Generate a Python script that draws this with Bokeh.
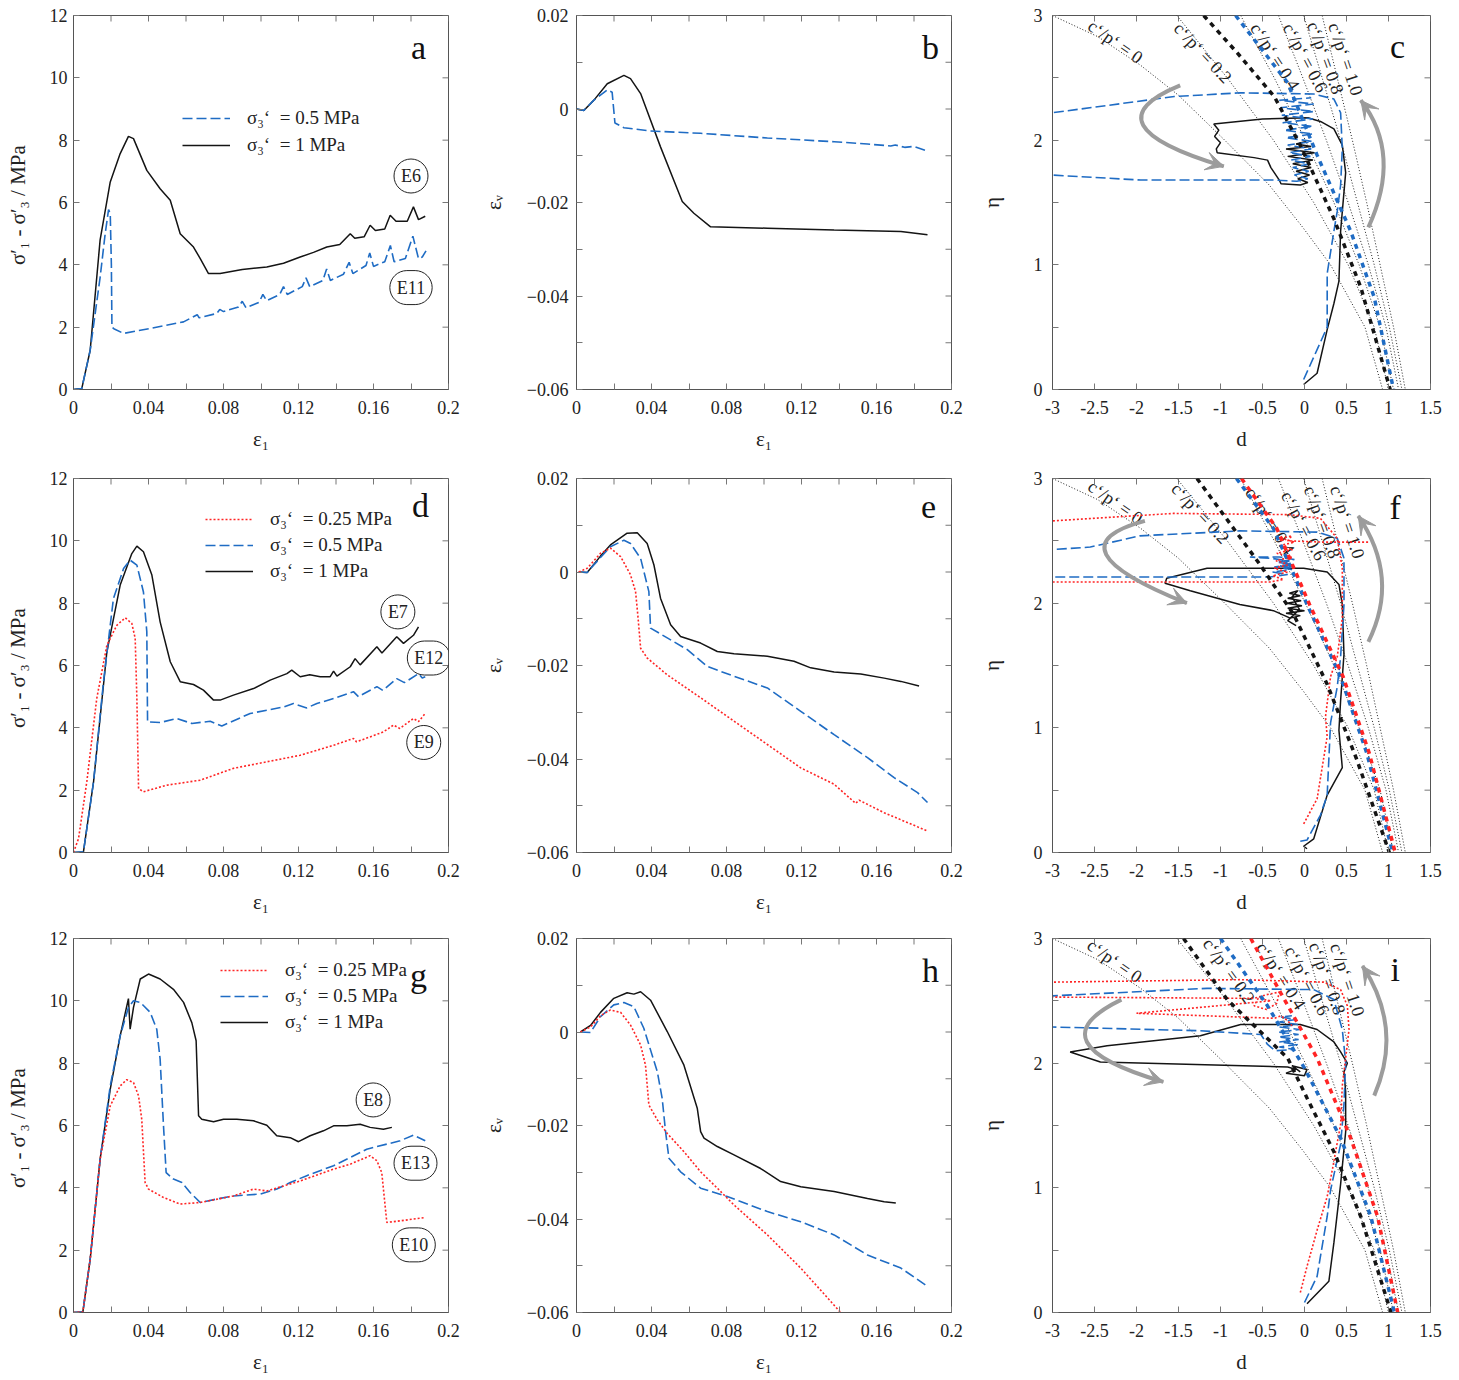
import math
from bokeh.plotting import figure
from bokeh.models import (Range1d, FixedTicker, Legend, LegendItem, Label, Arrow, VeeHead)
from bokeh.layouts import column, row
from bokeh.embed import file_html
from bokeh.resources import INLINE
from bokeh.core.properties import value

FONT = "Liberation Serif"
BLUE = "#1f6cc4"
RED = "#ff2424"
BLACK = "#141414"
GREY = "#9c9c9c"

# ---------------- data (strain, deviator stress / volumetric strain) ----------------
A_BLUE = [(0, 0), (0.0044, 0.03), (0.0089, 1.26), (0.0142, 3.6), (0.0169, 5.0), (0.0187, 5.77), (0.0196, 5.64),
          (0.0202, 4.0), (0.0205, 2.0), (0.0215, 1.95), (0.0267, 1.8), (0.041, 1.96), (0.0587, 2.17), (0.066, 2.4),
          (0.067, 2.3), (0.0764, 2.44), (0.078, 2.57), (0.080, 2.5), (0.088, 2.65), (0.090, 2.83), (0.092, 2.62),
          (0.099, 2.8), (0.101, 3.05), (0.103, 2.85), (0.110, 3.05), (0.112, 3.3), (0.114, 3.05), (0.122, 3.3),
          (0.124, 3.58), (0.126, 3.3), (0.133, 3.5), (0.135, 3.87), (0.137, 3.5), (0.144, 3.7), (0.147, 4.08),
          (0.149, 3.72), (0.156, 3.98), (0.158, 4.38), (0.160, 3.95), (0.166, 4.1), (0.169, 4.62), (0.171, 4.1),
          (0.177, 4.2), (0.181, 4.92), (0.184, 4.2), (0.186, 4.25), (0.188, 4.45)]
A_BLACK = [(0, 0), (0.0044, 0.03), (0.0089, 1.26), (0.0142, 4.8), (0.0196, 6.66), (0.0249, 7.57), (0.0293, 8.12),
           (0.032, 8.05), (0.0391, 7.03), (0.0462, 6.44), (0.0516, 6.07), (0.0569, 5.0), (0.064, 4.57),
           (0.0676, 4.2), (0.072, 3.72), (0.0782, 3.72), (0.09, 3.85), (0.1031, 3.93), (0.112, 4.05),
           (0.1209, 4.25), (0.128, 4.4), (0.1351, 4.57), (0.142, 4.65), (0.1476, 5.0), (0.150, 4.85),
           (0.155, 4.9), (0.1582, 5.27), (0.161, 5.1), (0.166, 5.15), (0.1689, 5.59), (0.172, 5.4),
           (0.178, 5.4), (0.1813, 5.86), (0.184, 5.45), (0.1876, 5.56)]

B_BLUE = [(0, 0), (0.0039, -0.0003), (0.0093, 0.0019), (0.0164, 0.0041), (0.019, 0.0036), (0.0205, -0.003),
          (0.0253, -0.004), (0.0395, -0.0047), (0.0662, -0.0052), (0.1018, -0.0062), (0.1374, -0.007),
          (0.1552, -0.0075), (0.1676, -0.0079), (0.170, -0.0077), (0.175, -0.0082), (0.180, -0.0080),
          (0.1872, -0.009)]
B_BLACK = [(0, 0), (0.0039, -0.0003), (0.0093, 0.0019), (0.0164, 0.0054), (0.0253, 0.0072), (0.0288, 0.0065),
           (0.0342, 0.0033), (0.0448, -0.0081), (0.0564, -0.0198), (0.0626, -0.0223), (0.0715, -0.0252),
           (0.1018, -0.0255), (0.1374, -0.0259), (0.173, -0.0262), (0.1872, -0.0269)]

D_RED = [(0, 0), (0.0027, 0.45), (0.0071, 2.27), (0.0124, 4.94), (0.0178, 6.65), (0.0231, 7.29), (0.0276, 7.53),
         (0.0311, 7.35), (0.0329, 6.87), (0.0338, 4.94), (0.0347, 2.05), (0.0373, 1.95), (0.0498, 2.16),
         (0.0676, 2.32), (0.0853, 2.7), (0.1031, 2.91), (0.1209, 3.12), (0.1387, 3.44), (0.1493, 3.66),
         (0.151, 3.55), (0.1653, 3.87), (0.1707, 4.09), (0.174, 3.98), (0.1813, 4.3), (0.184, 4.2), (0.1876, 4.46)]
D_BLUE = [(0, 0), (0.0053, 0.02), (0.0107, 2.27), (0.016, 5.48), (0.0213, 8.15), (0.0267, 9.11), (0.0302, 9.38),
          (0.0338, 9.22), (0.0373, 8.36), (0.0391, 7.08), (0.0395, 4.19), (0.0462, 4.17), (0.0551, 4.3),
          (0.0631, 4.14), (0.0729, 4.21), (0.0791, 4.06), (0.0942, 4.46), (0.112, 4.67), (0.1173, 4.78),
          (0.1244, 4.64), (0.1298, 4.78), (0.1387, 4.94), (0.1493, 5.16), (0.152, 5.0), (0.1618, 5.32),
          (0.165, 5.2), (0.1724, 5.58), (0.1765, 5.45), (0.184, 5.74), (0.186, 5.6), (0.1876, 5.64)]
D_BLACK = [(0, 0), (0.0053, 0.02), (0.0107, 2.27), (0.0178, 6.44), (0.0249, 8.58), (0.0311, 9.59), (0.0338, 9.83),
           (0.0373, 9.65), (0.0418, 8.9), (0.0462, 7.4), (0.0516, 6.12), (0.0569, 5.48), (0.064, 5.39),
           (0.0693, 5.21), (0.0747, 4.89), (0.0782, 4.89), (0.0853, 5.05), (0.096, 5.26), (0.1049, 5.53),
           (0.1138, 5.74), (0.1164, 5.85), (0.1209, 5.64), (0.126, 5.7), (0.1316, 5.64), (0.1369, 5.64),
           (0.1387, 5.82), (0.1405, 5.66), (0.1476, 5.96), (0.1502, 6.22), (0.1529, 6.02), (0.1618, 6.6),
           (0.1645, 6.4), (0.1724, 6.92), (0.176, 6.71), (0.1813, 6.97), (0.184, 7.24)]

E_RED = [(0.0012, 0), (0.0057, 0.0008), (0.0128, 0.004), (0.0181, 0.0051), (0.0235, 0.0033), (0.0288, -0.0006),
         (0.0315, -0.0042), (0.0327, -0.0092), (0.0342, -0.0163), (0.0377, -0.0184), (0.0484, -0.022),
         (0.0662, -0.0269), (0.084, -0.0319), (0.1018, -0.0369), (0.1196, -0.0419), (0.1374, -0.0454),
         (0.1489, -0.0495), (0.1507, -0.0488), (0.1641, -0.0515), (0.1872, -0.0554)]
E_BLUE = [(0.0012, 0), (0.0057, -0.0001), (0.0128, 0.0031), (0.0181, 0.0054), (0.0253, 0.0068), (0.0288, 0.0061),
          (0.0342, 0.0029), (0.0386, -0.0042), (0.0395, -0.012), (0.0484, -0.0141), (0.0591, -0.0166),
          (0.0698, -0.0202), (0.084, -0.0223), (0.1018, -0.0248), (0.1196, -0.0298), (0.1374, -0.0348),
          (0.1552, -0.0397), (0.1694, -0.044), (0.1819, -0.0472), (0.1872, -0.0493)]
E_BLACK = [(0.0012, 0), (0.0057, -0.0001), (0.0128, 0.0034), (0.0181, 0.0058), (0.027, 0.0083), (0.0324, 0.0084),
           (0.0377, 0.0061), (0.0413, 0.0015), (0.0448, -0.0056), (0.0502, -0.0113), (0.0555, -0.0138),
           (0.0662, -0.0152), (0.0751, -0.017), (0.084, -0.0175), (0.1018, -0.018), (0.116, -0.0191),
           (0.1249, -0.0205), (0.1374, -0.0214), (0.1516, -0.0218), (0.1641, -0.0227), (0.173, -0.0234),
           (0.1827, -0.0244)]

G_RED = [(0, 0), (0.005, 0.02), (0.0089, 1.71), (0.0142, 4.92), (0.0196, 6.63), (0.0249, 7.27), (0.0284, 7.47),
         (0.032, 7.38), (0.0347, 6.95), (0.0364, 6.2), (0.0382, 4.17), (0.04, 3.96), (0.048, 3.69), (0.0569, 3.48),
         (0.0676, 3.53), (0.0853, 3.74), (0.096, 3.96), (0.1031, 3.9), (0.1209, 4.22), (0.1387, 4.6),
         (0.1476, 4.76), (0.1582, 5.03), (0.1618, 4.87), (0.1644, 4.49), (0.1671, 2.89), (0.1742, 2.94),
         (0.1876, 3.05)]
G_BLUE = [(0, 0), (0.005, 0.02), (0.0089, 1.71), (0.0142, 4.92), (0.0196, 7.27), (0.0249, 8.88), (0.0293, 9.79),
          (0.032, 10.0), (0.0356, 9.95), (0.0409, 9.63), (0.0444, 9.09), (0.0462, 8.13), (0.048, 5.99),
          (0.0494, 4.49), (0.0533, 4.28), (0.0578, 4.17), (0.0622, 3.85), (0.0676, 3.53), (0.0764, 3.64),
          (0.0853, 3.74), (0.0996, 3.8), (0.1084, 3.96), (0.1156, 4.17), (0.1244, 4.39), (0.1387, 4.71),
          (0.1564, 5.24), (0.1742, 5.51), (0.1813, 5.69), (0.1876, 5.51)]
G_BLACK = [(0, 0), (0.005, 0.02), (0.0089, 1.71), (0.0142, 4.92), (0.0196, 7.17), (0.0249, 8.88), (0.0293, 10.07),
           (0.0302, 9.09), (0.032, 9.79), (0.0356, 10.7), (0.04, 10.86), (0.0462, 10.7), (0.0533, 10.37),
           (0.0587, 9.95), (0.0631, 9.3), (0.0654, 8.72), (0.0667, 6.31), (0.0684, 6.2), (0.0747, 6.12),
           (0.08, 6.2), (0.0871, 6.2), (0.096, 6.15), (0.1031, 6.01), (0.1084, 5.67), (0.1156, 5.61),
           (0.12, 5.48), (0.1262, 5.67), (0.1333, 5.83), (0.1387, 5.99), (0.1458, 5.99), (0.1529, 6.04),
           (0.1582, 5.94), (0.1653, 5.88), (0.1698, 5.94)]

H_RED = [(0.0021, 0), (0.0075, 0.0011), (0.0128, 0.0035), (0.0181, 0.0047), (0.0235, 0.0042), (0.0288, 0.0015),
         (0.0342, -0.0028), (0.0368, -0.0071), (0.0386, -0.0156), (0.0431, -0.0188), (0.0484, -0.0217),
         (0.0573, -0.0256), (0.0662, -0.0299), (0.0751, -0.0334), (0.084, -0.037), (0.1018, -0.0434),
         (0.1196, -0.0505), (0.1409, -0.06)]
H_BLUE = [(0.0021, 0), (0.0075, -0.0001), (0.0128, 0.0033), (0.0199, 0.0058), (0.0253, 0.0063), (0.0306, 0.0054),
          (0.0359, 0.0008), (0.0431, -0.0085), (0.0457, -0.0142), (0.0475, -0.0213), (0.0493, -0.027),
          (0.0555, -0.0299), (0.0662, -0.0334), (0.0804, -0.0352), (0.1018, -0.0384), (0.1196, -0.0406),
          (0.1374, -0.0434), (0.1552, -0.0477), (0.173, -0.0505), (0.1872, -0.0544)]
H_BLACK = [(0.0021, 0), (0.0075, 0.0014), (0.0128, 0.0042), (0.0199, 0.0072), (0.027, 0.0084), (0.0306, 0.0081),
           (0.0342, 0.0086), (0.0395, 0.0068), (0.0484, 0.0001), (0.0573, -0.0071), (0.0644, -0.0163),
           (0.0662, -0.0213), (0.068, -0.0227), (0.0751, -0.0245), (0.084, -0.0263), (0.0982, -0.0292),
           (0.1089, -0.032), (0.1196, -0.0331), (0.1374, -0.0341), (0.1552, -0.0356), (0.1641, -0.0363),
           (0.1703, -0.0366)]

# ---------------- data (dilatancy d, stress ratio eta) ----------------
CP_ETA = [3.0, 2.5, 2.0, 1.5, 1.0, 0.5, 0.0]
CP0 = [(-3.0, 3.0), (-2.46, 2.83), (-1.95, 2.6), (-1.5, 2.36), (-0.95, 2.0), (-0.42, 1.64), (-0.02, 1.3),
       (0.31, 1.0), (0.72, 0.5), (0.93, 0.0)]
CP02_D = [-1.52, -0.92, -0.37, 0.11, 0.52, 0.83, 1.0]
CP04_D = [-0.76, -0.36, 0.01, 0.35, 0.65, 0.90, 1.06]
CP06_D = [-0.31, -0.02, 0.26, 0.52, 0.76, 0.97, 1.12]
CP08_D = [-0.01, 0.21, 0.43, 0.63, 0.83, 1.01, 1.16]
CP10_D = [0.21, 0.39, 0.57, 0.74, 0.90, 1.06, 1.2]
CP_TEXT = ["c‘/p‘ = 0", "c‘/p‘ = 0.2", "c‘/p‘ = 0.4", "c‘/p‘ = 0.6", "c‘/p‘ = 0.8", "c‘/p‘ = 1.0"]

C_FIT_BLACK = [(-1.2, 3.0), (-0.8, 2.7), (-0.36, 2.35), (-0.05, 1.96), (0.35, 1.37), (0.67, 0.82), (1.02, 0.0)]
C_FIT_BLUE = [(-0.82, 3.0), (-0.2, 2.46), (0.15, 1.88), (0.55, 1.27), (0.83, 0.74), (1.06, 0.0)]
C_BLUE = [(-0.01, 0.08), (0.15, 0.32), (0.27, 0.5), (0.27, 0.93), (0.35, 1.27), (0.39, 1.43), (0.43, 1.64),
          (0.45, 1.93), (0.43, 2.22), (0.35, 2.33), (0.11, 2.37), (-0.76, 2.38), (-1.55, 2.35), (-3.0, 2.22),
          (-4.0, 2.19), (-4.0, 1.73), (-3.0, 1.72), (-1.95, 1.68), (-0.36, 1.68), (-0.09, 1.67), (0.04, 1.69),
          (-0.12, 1.72), (0.05, 1.75), (-0.14, 1.78), (0.06, 1.81), (-0.16, 1.84), (0.07, 1.87), (-0.18, 1.90),
          (0.08, 1.93), (-0.2, 1.96), (0.09, 1.99), (-0.22, 2.02), (0.1, 2.05), (-0.24, 2.08), (0.1, 2.11),
          (-0.26, 2.14), (0.1, 2.17), (-0.27, 2.20), (0.11, 2.23), (-0.29, 2.26), (0.11, 2.29), (-0.3, 2.32),
          (0.08, 2.34)]
C_BLACK = [(-0.01, 0.04), (0.15, 0.13), (0.27, 0.48), (0.35, 0.69), (0.41, 0.87), (0.43, 1.27), (0.49, 1.74),
           (0.45, 1.96), (0.35, 2.09), (0.19, 2.15), (0.04, 2.18), (-0.5, 2.17), (-1.08, 2.13), (-1.02, 2.08),
           (-1.07, 2.03), (-1.0, 1.98), (-1.05, 1.93), (-1.04, 1.9), (-0.6, 1.86), (-0.44, 1.84), (-0.40, 1.78),
           (-0.36, 1.74), (-0.30, 1.68), (-0.28, 1.65), (-0.05, 1.64), (0.04, 1.66), (-0.08, 1.69), (0.06, 1.72),
           (-0.1, 1.75), (0.08, 1.78), (-0.14, 1.81), (0.1, 1.84), (-0.2, 1.87), (0.12, 1.90), (-0.22, 1.93),
           (0.08, 1.95), (-0.1, 1.97), (0.02, 1.99)]

F_FIT_BLACK = [(-1.28, 3.0), (-0.53, 2.31), (-0.13, 1.91), (0.27, 1.35), (0.62, 0.75), (1.01, 0.0)]
F_FIT_BLUE = [(-0.81, 3.0), (-0.37, 2.6), (0.03, 1.99), (0.43, 1.41), (0.74, 0.80), (1.05, 0.0)]
F_FIT_RED = [(-0.75, 3.0), (-0.33, 2.6), (0.06, 1.99), (0.46, 1.41), (0.77, 0.80), (1.08, 0.0)]
F_RED = [(-0.01, 0.23), (0.15, 0.43), (0.27, 0.93), (0.25, 1.09), (0.31, 1.41), (0.39, 1.57), (0.45, 1.88),
         (0.45, 2.28), (0.39, 2.52), (0.19, 2.68), (-0.17, 2.71), (-1.56, 2.72), (-3.0, 2.66), (-4.0, 2.64),
         (-4.0, 2.18), (-3.0, 2.17), (-0.41, 2.17), (-0.25, 2.19), (-0.38, 2.22), (-0.2, 2.25), (-0.36, 2.28),
         (-0.18, 2.31), (-0.34, 2.34), (-0.15, 2.37), (-0.33, 2.40), (-0.14, 2.43), (-0.3, 2.46), (-0.12, 2.49),
         (-0.27, 2.52), (-0.15, 2.54), (-0.2, 2.5), (0.2, 2.49), (0.76, 2.49)]
F_BLUE = [(-0.05, 0.09), (0.03, 0.10), (0.19, 0.3), (0.27, 0.46), (0.31, 1.04), (0.39, 1.33), (0.43, 1.57),
          (0.47, 1.99), (0.47, 2.36), (0.39, 2.52), (0.15, 2.57), (-0.77, 2.58), (-1.96, 2.54), (-2.55, 2.45),
          (-3.0, 2.43), (-4.0, 2.42), (-4.0, 2.22), (-3.0, 2.21), (-0.41, 2.21), (-0.2, 2.23), (-0.38, 2.25),
          (-0.15, 2.27), (-0.36, 2.29), (-0.14, 2.31), (-0.33, 2.33), (-0.12, 2.35), (-0.3, 2.37),
          (-0.65, 2.37), (-0.4, 2.36), (-0.18, 2.34), (-0.3, 2.30), (-0.12, 2.28)]
F_BLACK = [(0.03, 0.03), (-0.01, 0.05), (0.11, 0.11), (0.27, 0.46), (0.45, 0.68), (0.41, 0.98), (0.43, 1.22),
           (0.47, 1.59), (0.45, 1.99), (0.41, 2.15), (0.27, 2.25), (-0.01, 2.28), (-1.16, 2.28), (-1.64, 2.2),
           (-1.66, 2.16), (-1.36, 2.1), (-0.77, 1.99), (-0.37, 1.94), (-0.17, 1.88), (-0.05, 1.90),
           (-0.22, 1.92), (0.0, 1.94), (-0.2, 1.96), (-0.03, 1.98), (-0.21, 2.0), (-0.04, 2.02), (-0.2, 2.04),
           (-0.05, 2.06), (-0.18, 2.08), (-0.08, 2.1), (-0.15, 2.05), (-0.06, 1.95), (-0.2, 1.86),
           (-0.1, 1.82)]

I_FIT_BLACK = [(-1.44, 3.0), (-0.92, 2.51), (-0.2, 2.04), (0.03, 1.72), (0.35, 1.29), (0.67, 0.77), (1.03, 0.0)]
I_FIT_BLUE = [(-1.0, 3.0), (-0.44, 2.46), (0.0, 1.96), (0.43, 1.40), (0.79, 0.77), (1.07, 0.0)]
I_FIT_RED = [(-0.64, 3.0), (-0.28, 2.56), (0.15, 2.04), (0.55, 1.40), (0.87, 0.77), (1.11, 0.0)]
I_RED = [(-0.05, 0.16), (0.03, 0.37), (0.15, 0.66), (0.27, 0.93), (0.33, 1.14), (0.43, 1.51), (0.45, 1.82),
         (0.49, 2.04), (0.53, 2.27), (0.51, 2.46), (0.43, 2.59), (0.23, 2.65), (-0.76, 2.67), (-3.0, 2.65),
         (-4.0, 2.64), (-4.0, 2.53), (-3.0, 2.53), (-0.6, 2.52), (-0.45, 2.55), (-0.3, 2.57), (-0.33, 2.48),
         (-0.45, 2.43), (-0.6, 2.46), (-0.55, 2.52), (-0.4, 2.50), (-2.0, 2.40), (-0.36, 2.36), (-0.28, 2.38),
         (-0.2, 2.34), (-0.15, 2.30)]
I_BLUE = [(0.0, 0.08), (0.15, 0.29), (0.27, 0.77), (0.31, 0.98), (0.43, 1.35), (0.47, 1.67), (0.49, 2.01),
          (0.45, 2.27), (0.35, 2.51), (0.11, 2.59), (-1.16, 2.6), (-3.0, 2.54), (-4.0, 2.53), (-4.0, 2.30),
          (-3.0, 2.29), (-1.24, 2.26), (-0.52, 2.23), (-0.44, 2.15), (-0.35, 2.1), (-0.12, 2.11),
          (-0.3, 2.13), (-0.08, 2.15), (-0.3, 2.17), (-0.07, 2.19), (-0.31, 2.21), (-0.07, 2.23),
          (-0.31, 2.25), (-0.06, 2.27), (-0.3, 2.29), (-0.08, 2.31), (-0.3, 2.33), (-0.1, 2.35), (-0.28, 2.37),
          (-0.15, 2.38)]
I_BLACK = [(0.03, 0.07), (0.29, 0.25), (0.35, 0.56), (0.43, 1.03), (0.49, 1.45), (0.49, 1.77), (0.47, 1.93),
           (0.51, 2.0), (0.43, 2.09), (0.35, 2.17), (0.15, 2.27), (-0.05, 2.31), (-0.76, 2.31), (-1.24, 2.22),
           (-2.35, 2.14), (-2.79, 2.09), (-2.43, 2.01), (-0.2, 1.97), (-0.1, 1.95), (-0.22, 1.92), (0.0, 1.90),
           (0.03, 1.95), (-0.15, 1.98), (-0.05, 1.93)]

LEG_025 = "σ₃‘\u00a0 = 0.25 MPa"
LEG_05 = "σ₃‘\u00a0 = 0.5 MPa"
LEG_1 = "σ₃‘\u00a0 = 1 MPa"

# ---------------- layout geometry ----------------
COLS = [dict(w=478, left=73, right=30), dict(w=497, left=98, right=24), dict(w=484, left=77, right=29)]
ROWS_TB = [[(15, 71), (15, 70), (15, 71)], [(18, 68), (18, 67), (18, 68)], [(18, 68), (18, 67), (18, 68)]]

X_TICKS = [0, 0.04, 0.08, 0.12, 0.16, 0.2]
X_MINOR = [0.02, 0.06, 0.1, 0.14, 0.18]
X_LABELS = {0: "0", 0.04: "0.04", 0.08: "0.08", 0.12: "0.12", 0.16: "0.16", 0.2: "0.2"}
Q_TICKS = [0, 2, 4, 6, 8, 10, 12]
V_TICKS = [-0.06, -0.04, -0.02, 0, 0.02]
V_MINOR = [-0.05, -0.03, -0.01, 0.01]
V_LABELS = {-0.06: "−0.06", -0.04: "−0.04", -0.02: "−0.02", 0: "0", 0.02: "0.02"}
D_TICKS = [-3, -2.5, -2, -1.5, -1, -0.5, 0, 0.5, 1, 1.5]
D_LABELS = {-3: "-3", -2.5: "-2.5", -2: "-2", -1.5: "-1.5", -1: "-1", -0.5: "-0.5", 0: "0", 0.5: "0.5",
            1: "1", 1.5: "1.5"}
ETA_TICKS = [0, 1, 2, 3]
ETA_MINOR = [0.5, 1.5, 2.5]


def xy(pairs):
    return [p[0] for p in pairs], [p[1] for p in pairs]


def style_axis(ax):
    ax.axis_line_color = "#555555"
    ax.major_tick_in = 6
    ax.major_tick_out = 0
    ax.minor_tick_in = 6
    ax.minor_tick_out = 0
    ax.major_tick_line_color = "#777777"
    ax.minor_tick_line_color = "#777777"
    ax.major_label_text_font = FONT
    ax.major_label_text_color = "#222222"
    ax.major_label_text_font_size = "18px"
    ax.axis_label_text_font = FONT
    ax.axis_label_text_font_size = "21px"
    ax.axis_label_text_font_style = "normal"
    ax.axis_label_text_color = "#222222"


def make_fig(ci, ri, xr, yr, xt, xminor, xlab_over, yt, yminor, ylab_over, xlabel, ylabel,
             y_lab_standoff, y_axis_standoff):
    c = COLS[ci]
    top, bottom = ROWS_TB[ri][ci]
    p = figure(width=c["w"], height=460, x_range=Range1d(*xr), y_range=Range1d(*yr),
               output_backend="svg", toolbar_location=None,
               min_border_left=c["left"], min_border_right=c["right"],
               min_border_top=top, min_border_bottom=bottom)
    p.grid.visible = False
    p.outline_line_color = "#555555"
    p.background_fill_color = "white"
    p.border_fill_color = "white"
    p.xaxis[0].ticker = FixedTicker(ticks=xt, minor_ticks=xminor)
    p.yaxis[0].ticker = FixedTicker(ticks=yt, minor_ticks=yminor)
    if xlab_over:
        p.xaxis[0].major_label_overrides = xlab_over
    if ylab_over:
        p.yaxis[0].major_label_overrides = ylab_over
    style_axis(p.xaxis[0])
    style_axis(p.yaxis[0])
    p.xaxis[0].axis_label = xlabel
    p.yaxis[0].axis_label = ylabel
    p.xaxis[0].major_label_standoff = 11
    p.xaxis[0].axis_label_standoff = 10
    p.yaxis[0].major_label_standoff = y_lab_standoff
    p.yaxis[0].axis_label_standoff = y_axis_standoff
    # mirrored inward ticks on the right and top edges of the frame
    rt = list(yt) + list(yminor)
    p.ray(x=[xr[1]] * len(rt), y=rt, length=6, length_units="screen", angle=math.pi,
          line_color="#777777", line_width=1)
    tt = list(xt) + list(xminor)
    p.ray(x=tt, y=[yr[1]] * len(tt), length=6, length_units="screen", angle=-math.pi / 2,
          line_color="#777777", line_width=1)
    return p


def q_fig(ci, ri):
    return make_fig(ci, ri, (0, 0.2), (0, 12), X_TICKS, X_MINOR, X_LABELS, Q_TICKS, [], None,
                    "ε₁", "σ′₁ - σ′₃  / MPa", 6, 17)


def v_fig(ci, ri):
    return make_fig(ci, ri, (0, 0.2), (-0.06, 0.02), X_TICKS, X_MINOR, X_LABELS, V_TICKS, V_MINOR, V_LABELS,
                    "ε₁", "εᵥ", 8, 18)


def d_fig(ci, ri):
    return make_fig(ci, ri, (-3, 1.5), (0, 3), D_TICKS, [], D_LABELS, ETA_TICKS, ETA_MINOR, None,
                    "d", "η", 10, 27)


def line(p, pairs, kind):
    x, y = xy(pairs)
    if kind == "blue":
        return p.line(x, y, line_color=BLUE, line_width=1.6, line_dash="10 4")
    if kind == "red":
        return p.line(x, y, line_color=RED, line_width=1.6, line_dash="2 2")
    return p.line(x, y, line_color=BLACK, line_width=1.5)


def add_legend(p, items, loc, spacing):
    leg = Legend(items=[LegendItem(label=value(t), renderers=[r]) for t, r in items],
                 location=loc, padding=0, margin=0, spacing=spacing, glyph_width=48, glyph_height=20,
                 label_height=20, label_standoff=17, label_text_font=FONT, label_text_font_size="19px",
                 label_text_color="#222222", border_line_alpha=0, background_fill_alpha=0)
    p.add_layout(leg)


def letter(p, x, y, t):
    p.add_layout(Label(x=x, y=y, text=t, text_font=FONT, text_font_size="34px", text_align="center",
                       text_baseline="middle", text_color="#111111"))


def tag(p, x, y, t):
    p.add_layout(Label(x=x, y=y, text=t, text_font=FONT, text_font_size="18px", text_align="center",
                       text_baseline="middle", text_color="#222222", border_line_color="#222222",
                       border_line_width=1, padding=7, border_radius=18))


def cp_lines(p, label_pos):
    dx, dy = xy(CP0)
    p.line(dx, dy, line_color="#222222", line_width=1, line_dash="1 2")
    for ds in (CP02_D, CP04_D, CP06_D, CP08_D, CP10_D):
        p.line(ds, CP_ETA, line_color="#222222", line_width=1, line_dash="1 2")
    lx = [q[0] for q in label_pos]
    ly = [q[1] for q in label_pos]
    la = [q[2] for q in label_pos]
    p.text(x=lx, y=ly, text=CP_TEXT, angle=la, text_font=value(FONT), text_font_size="18px",
           text_align="center", text_baseline="middle", text_color="#222222")


def fit(p, pairs, color):
    x, y = xy(pairs)
    p.line(x, y, line_color=color, line_width=3.5, line_dash="5 5")


def curved_arrow(p, p0, m, p1):
    cx = 2 * m[0] - (p0[0] + p1[0]) / 2
    cy = 2 * m[1] - (p0[1] + p1[1]) / 2
    p.quadratic(x0=[p0[0]], y0=[p0[1]], x1=[p1[0]], y1=[p1[1]], cx=[cx], cy=[cy],
                line_color=GREY, line_width=4)
    sx = p1[0] - 0.03 * (p1[0] - cx)
    sy = p1[1] - 0.03 * (p1[1] - cy)
    p.add_layout(Arrow(end=VeeHead(size=18, fill_color=GREY, line_color=GREY, line_width=1),
                       x_start=sx, y_start=sy, x_end=p1[0], y_end=p1[1], line_color=GREY, line_width=4))


LBL_C = [(-2.25, 2.79, -0.61), (-1.21, 2.70, -0.82), (-0.35, 2.67, -1.0), (0.01, 2.66, -1.08),
         (0.25, 2.66, -1.22), (0.49, 2.65, -1.25)]
LBL_F = [(-2.25, 2.81, -0.61), (-1.24, 2.72, -0.82), (-0.41, 2.66, -1.0), (-0.01, 2.62, -1.08),
         (0.21, 2.65, -1.22), (0.51, 2.65, -1.25)]
LBL_I = [(-2.26, 2.82, -0.61), (-0.9, 2.74, -0.95), (-0.28, 2.70, -1.0), (0.03, 2.66, -1.08),
         (0.27, 2.68, -1.22), (0.51, 2.67, -1.25)]

# ---------------- row 1 ----------------
pa = q_fig(0, 0)
rk = line(pa, A_BLACK, "black")
rb = line(pa, A_BLUE, "blue")
add_legend(pa, [(LEG_05, rb), (LEG_1, rk)], (109, 233), 5)
letter(pa, 0.184, 10.97, "a")
tag(pa, 0.180, 6.85, "E6")
tag(pa, 0.180, 3.27, "E11")

pb = v_fig(1, 0)
line(pb, B_BLACK, "black")
line(pb, B_BLUE, "blue")
letter(pb, 0.1888, 0.0132, "b")

pc = d_fig(2, 0)
cp_lines(pc, LBL_C)
line(pc, C_BLACK, "black")
line(pc, C_BLUE, "blue")
fit(pc, C_FIT_BLACK, BLACK)
fit(pc, C_FIT_BLUE, BLUE)
curved_arrow(pc, (-1.48, 2.44), (-1.92, 2.12), (-0.96, 1.79))
curved_arrow(pc, (0.76, 1.30), (0.94, 1.85), (0.67, 2.32))
letter(pc, 1.107, 2.75, "c")

# ---------------- row 2 ----------------
pd = q_fig(0, 1)
rk = line(pd, D_BLACK, "black")
rb = line(pd, D_BLUE, "blue")
rr = line(pd, D_RED, "red")
add_legend(pd, [(LEG_025, rr), (LEG_05, rb), (LEG_1, rk)], (132, 270), 4)
letter(pd, 0.185, 11.13, "d")
tag(pd, 0.173, 7.72, "E7")
tag(pd, 0.1895, 6.24, "E12")
tag(pd, 0.1868, 3.53, "E9")

pe = v_fig(1, 1)
line(pe, E_BLACK, "black")
line(pe, E_BLUE, "blue")
line(pe, E_RED, "red")
letter(pe, 0.1877, 0.0138, "e")

pf = d_fig(2, 1)
cp_lines(pf, LBL_F)
line(pf, F_BLACK, "black")
line(pf, F_BLUE, "blue")
line(pf, F_RED, "red")
fit(pf, F_FIT_BLACK, BLACK)
fit(pf, F_FIT_BLUE, BLUE)
fit(pf, F_FIT_RED, RED)
curved_arrow(pf, (-1.9, 2.66), (-2.36, 2.39), (-1.4, 2.0))
curved_arrow(pf, (0.76, 1.69), (0.92, 2.2), (0.64, 2.7))
letter(pf, 1.08, 2.77, "f")

# ---------------- row 3 ----------------
pg = q_fig(0, 2)
rk = line(pg, G_BLACK, "black")
rb = line(pg, G_BLUE, "blue")
rr = line(pg, G_RED, "red")
add_legend(pg, [(LEG_025, rr), (LEG_05, rb), (LEG_1, rk)], (147, 279), 4)
letter(pg, 0.184, 10.81, "g")
tag(pg, 0.1598, 6.82, "E8")
tag(pg, 0.1824, 4.79, "E13")
tag(pg, 0.1815, 2.17, "E10")

ph = v_fig(1, 2)
line(ph, H_BLACK, "black")
line(ph, H_BLUE, "blue")
line(ph, H_RED, "red")
letter(ph, 0.1888, 0.0132, "h")

pi = d_fig(2, 2)
cp_lines(pi, LBL_I)
line(pi, I_BLACK, "black")
line(pi, I_BLUE, "blue")
line(pi, I_RED, "red")
fit(pi, I_FIT_BLACK, BLACK)
fit(pi, I_FIT_BLUE, BLUE)
fit(pi, I_FIT_RED, RED)
curved_arrow(pi, (-2.18, 2.51), (-2.59, 2.17), (-1.68, 1.85))
curved_arrow(pi, (0.83, 1.74), (0.97, 2.27), (0.69, 2.78))
letter(pi, 1.08, 2.75, "i")

layout = column(row(pa, pb, pc), row(pd, pe, pf), row(pg, ph, pi))
open("out.html", "w").write(file_html(layout, INLINE))
